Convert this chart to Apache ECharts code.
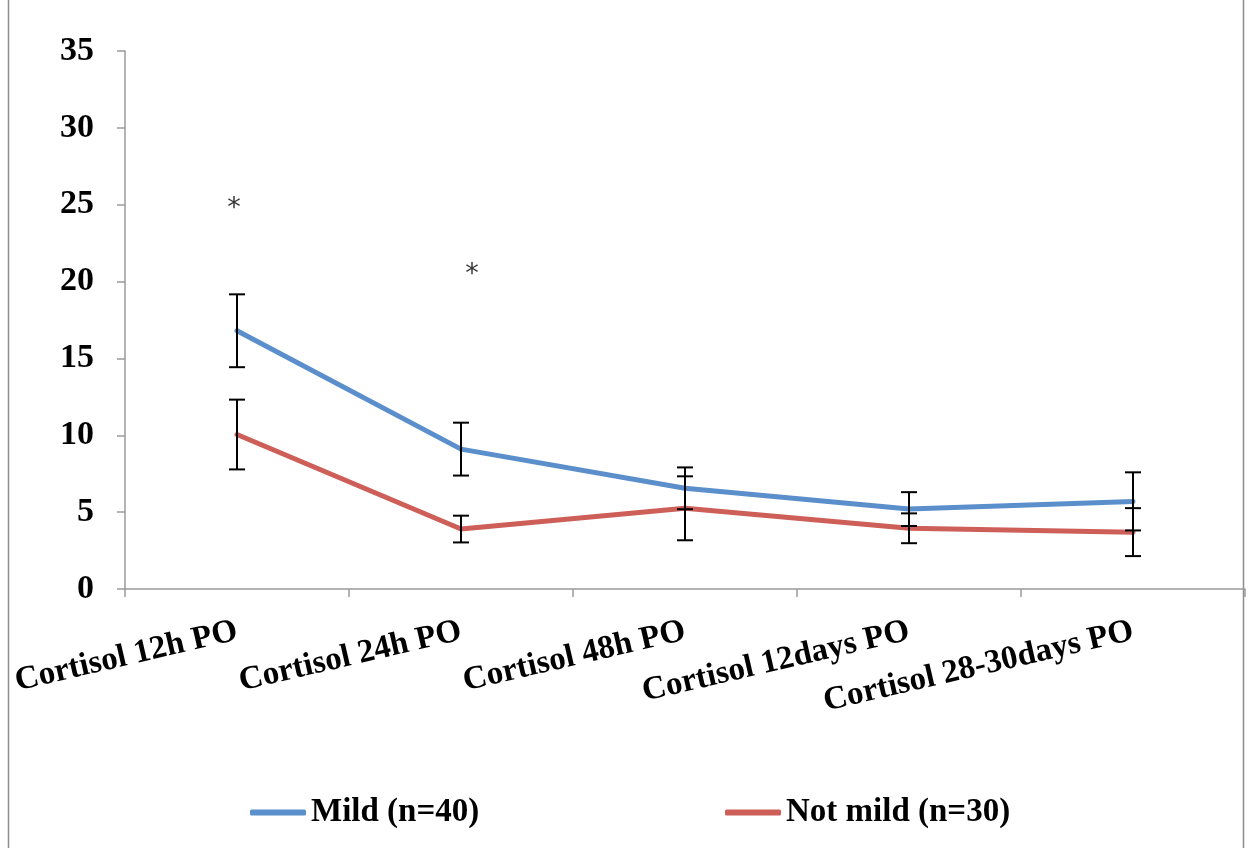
<!DOCTYPE html>
<html>
<head>
<meta charset="utf-8">
<style>html,body{margin:0;padding:0;background:#fff;}#chart{width:1250px;height:848px;}</style>
<script src="https://cdn.jsdelivr.net/npm/echarts@6/dist/echarts.min.js"></script>
</head>
<body>
<div id="chart"></div>
<script>
const categories = ['Cortisol 12h PO', 'Cortisol 24h PO', 'Cortisol 48h PO', 'Cortisol 12days PO', 'Cortisol 28-30days PO'];
const mildMean = [16.8, 9.1, 6.55, 5.2, 5.7];
const mildErr = [2.37, 1.72, 1.36, 1.1, 1.89];
const notMildMean = [10.05, 3.9, 5.25, 3.95, 3.7];
const notMildErr = [2.27, 0.87, 2.08, 0.97, 1.56];
const starCats = ['Cortisol 12h PO', 'Cortisol 24h PO'];
const starY = [25.1, 20.8];
const yMin = 0, yMax = 35, yStep = 5;
const seriesNames = ['Mild (n=40)', 'Not mild (n=30)'];

const FONT = '"Liberation Serif", "DejaVu Serif", serif';
const BLUE = '#5B8FCB';
const RED = '#CD5F58';

function errData(mean, err) {
  return mean.map((m, i) => [i, m - err[i], m + err[i]]);
}
function errRender(params, api) {
  const x = api.value(0);
  const lo = api.coord([x, api.value(1)]);
  const hi = api.coord([x, api.value(2)]);
  const cw = 8;
  const st = { stroke: '#000', lineWidth: 2 };
  return {
    type: 'group',
    children: [
      { type: 'line', shape: { x1: hi[0], y1: hi[1], x2: lo[0], y2: lo[1] }, style: st },
      { type: 'line', shape: { x1: hi[0] - cw, y1: hi[1], x2: hi[0] + cw, y2: hi[1] }, style: st },
      { type: 'line', shape: { x1: lo[0] - cw, y1: lo[1], x2: lo[0] + cw, y2: lo[1] }, style: st }
    ]
  };
}

const chart = echarts.init(document.getElementById('chart'), null, { renderer: 'canvas' });
const legendText = { fontFamily: FONT, fontWeight: 'bold', fontSize: 33, color: '#000' };
const legendBase = { top: 791, itemWidth: 56, itemHeight: 6, icon: 'roundRect', textStyle: legendText, selectedMode: false };
chart.setOption({
  animation: false,
  backgroundColor: '#fff',
  graphic: [{
    type: 'rect', shape: { x: 8.5, y: -2, width: 1235, height: 852 },
    style: { fill: 'none', stroke: '#8c8c8c', lineWidth: 1.5 }, silent: true, z: -10
  }],
  grid: { left: 125, right: 5, top: 51, bottom: 259, containLabel: false },
  legend: [
    Object.assign({ data: [seriesNames[0]], left: 245 }, legendBase),
    Object.assign({ data: [seriesNames[1]], left: 720 }, legendBase)
  ],
  xAxis: {
    type: 'category',
    data: categories,
    boundaryGap: true,
    axisLine: { lineStyle: { color: '#9a9a9a', width: 1.5 } },
    axisTick: { show: true, length: 8, alignWithLabel: false, lineStyle: { color: '#9a9a9a', width: 1.5 } },
    axisLabel: { interval: 0, rotate: 13, margin: 42, fontFamily: FONT, fontWeight: 'bold', fontSize: 33, color: '#000' },
    splitLine: { show: false }
  },
  yAxis: {
    type: 'value',
    min: yMin, max: yMax, interval: yStep,
    axisLine: { show: true, lineStyle: { color: '#9a9a9a', width: 1.5 } },
    axisTick: { show: true, length: 8, inside: false, lineStyle: { color: '#9a9a9a', width: 1.5 } },
    axisLabel: { margin: 31, fontFamily: FONT, fontWeight: 'bold', fontSize: 34, color: '#000' },
    splitLine: { show: false }
  },
  series: [
    { name: seriesNames[0], type: 'line', data: mildMean, symbol: 'none', color: BLUE,
      lineStyle: { color: BLUE, width: 5, cap: 'round', join: 'round' }, z: 3 },
    { name: seriesNames[1], type: 'line', data: notMildMean, symbol: 'none', color: RED,
      lineStyle: { color: RED, width: 5, cap: 'round', join: 'round' }, z: 3 },
    { type: 'custom', renderItem: errRender, data: errData(mildMean, mildErr), z: 5, silent: true,
      encode: { x: 0, y: [1, 2] } },
    { type: 'custom', renderItem: errRender, data: errData(notMildMean, notMildErr), z: 5, silent: true,
      encode: { x: 0, y: [1, 2] } },
    { type: 'scatter', symbolSize: 0, silent: true, z: 6,
      data: starCats.map((c, i) => ({
        value: [c, starY[i]],
        label: { offset: i === 1 ? [11, 6] : [-3, 6] }
      })),
      label: { show: true, formatter: '*', position: 'inside', fontFamily: '"DejaVu Sans", sans-serif', fontSize: 27, color: '#000' }
    }
  ]
});
</script>
</body>
</html>
